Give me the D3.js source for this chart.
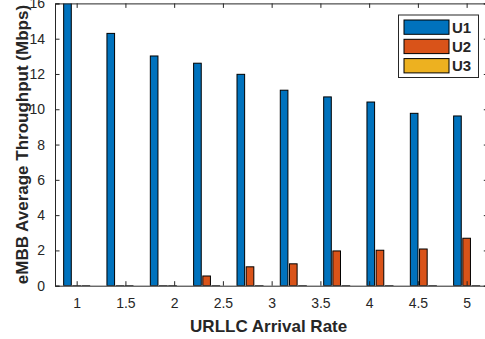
<!DOCTYPE html>
<html>
<head>
<meta charset="utf-8">
<script src="https://cdn.jsdelivr.net/npm/d3@7"></script>
<style>
  body { margin: 0; background: #fff; }
  svg { display: block; }
  text { font-family: "Liberation Sans", Arial, sans-serif; fill: #262626; }
</style>
</head>
<body>
<div id="chart"></div>
<script>
// Arrival rates (10 points between 1 and 5)
const rates = [1, 1.444, 1.889, 2.333, 2.778, 3.222, 3.667, 4.111, 4.556, 5];
const series = ['U1', 'U2', 'U3'];
const u1 = [16.2, 14.3, 13.02, 12.61, 11.98, 11.08, 10.7, 10.41, 9.77, 9.62];
const u2 = [0, 0, 0, 0.55, 1.07, 1.24, 1.97, 2.01, 2.08, 2.69];
const u3 = [0, 0, 0, 0, 0, 0, 0, 0, 0, 0];
const xTicks = [1, 1.5, 2, 2.5, 3, 3.5, 4, 4.5, 5];
const yTicks = [0, 2, 4, 6, 8, 10, 12, 14, 16];
const colors = ['#0072BD', '#D95319', '#EDB120'];

const W = 485, H = 339;
const margin = { left: 55, top: 3.4, right: -3.3, bottom: 53.3 };
const w = W - margin.left - margin.right;
const h = H - margin.top - margin.bottom;

const svg = d3.select('#chart').append('svg')
  .attr('width', W).attr('height', H);

const plot = svg.append('g')
  .attr('transform', `translate(${margin.left},${margin.top})`);

const xScale = d3.scaleLinear()
  .domain([1 - 2 / 9, 5 + 2 / 9])
  .range([0, w]);

const yScale = d3.scaleLinear()
  .domain([0, 16])
  .range([h, 0]);

// bar slots inside each group
const spacing = xScale(rates[1]) - xScale(rates[0]);
const gw = spacing * 0.637;
const slot = d3.scaleBand()
  .domain(series)
  .range([-gw / 2, gw / 2])
  .paddingInner(0.17)
  .paddingOuter(0.085);

const data = [u1, u2, u3];
const clip = svg.append('clipPath').attr('id', 'clip')
  .append('rect').attr('width', w).attr('height', h);

const bars = plot.append('g').attr('clip-path', 'url(#clip)');
series.forEach((s, si) => {
  bars.selectAll('.bar-' + s)
    .data(rates.map((r, i) => ({ r, v: data[si][i] })))
    .join('rect')
    .attr('x', d => xScale(d.r) + slot(s))
    .attr('width', slot.bandwidth())
    .attr('y', d => yScale(d.v))
    .attr('height', d => Math.max(0.01, h - yScale(d.v)))
    .attr('fill', colors[si])
    .attr('stroke', '#000')
    .attr('stroke-width', 1);
});

const axisColor = '#262626';
const tl = 4.5;

// bottom axis
const xb = plot.append('g')
  .attr('transform', `translate(0,${h})`)
  .call(d3.axisBottom(xScale).tickValues(xTicks).tickSize(-tl).tickPadding(12).tickFormat(d3.format('')));
// top axis
const xt = plot.append('g')
  .call(d3.axisTop(xScale).tickValues(xTicks).tickSize(-tl).tickFormat(''));
// left axis
const yl = plot.append('g')
  .call(d3.axisLeft(yScale).tickValues(yTicks).tickSize(-tl).tickPadding(10));
// right axis
const yr = plot.append('g')
  .attr('transform', `translate(${w},0)`)
  .call(d3.axisRight(yScale).tickValues(yTicks).tickSize(-tl).tickFormat(''));

[xb, xt, yl, yr].forEach(g => {
  g.select('.domain').attr('stroke', axisColor).attr('stroke-width', 1);
  g.selectAll('.tick line').attr('stroke', axisColor);
  g.selectAll('.tick text')
    .style('font-family', '"Liberation Sans", Arial, sans-serif')
    .style('font-size', '14px')
    .attr('fill', axisColor);
});

// axis labels
svg.append('text')
  .attr('x', margin.left + w / 2 - 3)
  .attr('y', 331.5)
  .attr('text-anchor', 'middle')
  .style('font-size', '17px').style('font-weight', 'bold')
  .text('URLLC Arrival Rate');

svg.append('text')
  .attr('transform', 'rotate(-90)')
  .attr('x', -(margin.top + h / 2))
  .attr('y', 28)
  .attr('text-anchor', 'middle')
  .style('font-size', '17px').style('font-weight', 'bold')
  .text('eMBB Average Throughput (Mbps)');

// legend
const lg = svg.append('g').attr('transform', 'translate(398.5,15)');
lg.append('rect')
  .attr('width', 80).attr('height', 62.5)
  .attr('fill', '#fff').attr('stroke', axisColor).attr('stroke-width', 1);
series.forEach((s, i) => {
  lg.append('rect')
    .attr('x', 5.5).attr('y', 5 + i * 19.3)
    .attr('width', 45).attr('height', 14.3)
    .attr('fill', colors[i]).attr('stroke', '#000').attr('stroke-width', 1);
  lg.append('text')
    .attr('x', 53.5).attr('y', 12.3 + i * 19.3)
    .attr('dy', '0.36em')
    .style('font-size', '15px').style('font-weight', 'bold')
    .attr('fill', '#000')
    .text(s);
});
</script>
</body>
</html>
